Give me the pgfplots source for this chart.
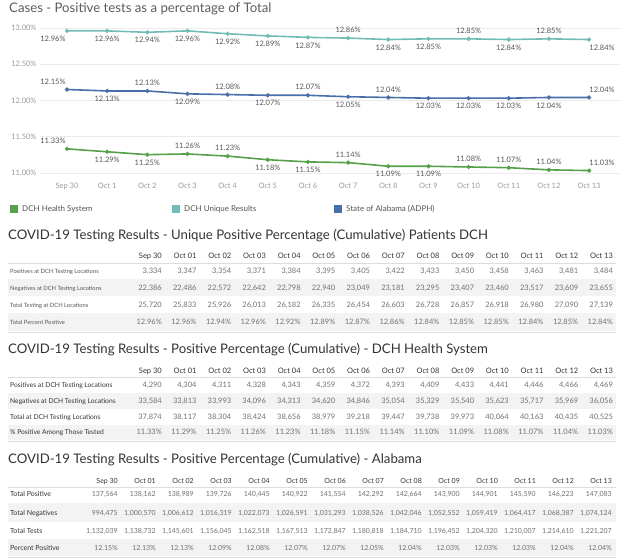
\documentclass[border=0pt]{standalone}
\usepackage{fontspec}
\setmainfont{Lato}
\usepackage{pgfplots}
\pgfplotsset{compat=1.18}

\definecolor{cgreen}{HTML}{55A048}
\definecolor{cteal}{HTML}{72BCB5}
\definecolor{cblue}{HTML}{4A6EA8}
\definecolor{lab}{HTML}{555555}
\definecolor{tickc}{HTML}{9A9A9A}
\definecolor{band}{HTML}{F3F3F3}
\definecolor{rulec}{HTML}{DDDDDD}
\definecolor{num}{HTML}{707070}
\definecolor{ttl}{HTML}{333333}

\newcommand\fs[1]{\fontsize{#1}{#1}\selectfont}
\tikzset{txt/.style={inner sep=0pt,text height=0.72em,text depth=0.18em}}

% one table row: first right edge, step, y centre, style, values
\newcommand\vals[5]{\foreach \v [count=\i from 0] in {#5}
  \node[txt,anchor=east,#4] at ({#1+#2*\i},{-#3}) {\v};}

\pgfplotsset{lbl/.style={
  nodes near coords={\pgfmathprintnumber[fixed,fixed zerofill,precision=2]{\pgfplotspointmeta}\%},
  point meta=y,
  visualization depends on={value \thisrow{dx}\as\dx},
  visualization depends on={value \thisrow{dy}\as\dy},
  nodes near coords style={font=\fs{7.5},text=lab,anchor=center,inner sep=0pt,
    xshift=\dx pt,yshift=\dy pt}},
  ser/.style={#1,line width=1.6pt,mark=*,mark size=1.2pt,lbl}}

\begin{document}
\begin{tikzpicture}
\path[use as bounding box] (0pt,0pt) rectangle (624pt,-559pt);

% ---------- chart ----------
\begin{axis}[at={(40pt,-20pt)},anchor=north west,
  scale only axis,width=580pt,height=160pt,
  xmin=-0.672,xmax=13.77,ymin=10.9,ymax=13.11,
  axis line style={draw=none},major tick length=0pt,
  ymajorgrids,grid style={rulec!60},
  xtick={0,...,13},
  xticklabels={Sep 30,Oct 1,Oct 2,Oct 3,Oct 4,Oct 5,Oct 6,Oct 7,Oct 8,Oct 9,Oct 10,Oct 11,Oct 12,Oct 13},
  ytick={11,11.5,12,12.5,13},
  yticklabel={\pgfmathprintnumber[fixed,fixed zerofill,precision=2]{\tick}\%},
  ticklabel style={font=\fs{7.5},text=tickc},
  /pgf/number format/assume math mode=true,
  clip=false]

\addplot[ser=cteal] table {
x y dx dy
0 12.96 -14 -8
1 12.96 0 -8
2 12.94 0 -8
3 12.96 0 -8
4 12.92 0 -8
5 12.89 0 -8
6 12.87 0 -8
7 12.86 0 8
8 12.84 0 -8
9 12.85 0 -8
10 12.85 0 8
11 12.84 0 -8
12 12.85 0 8
13 12.84 13 -8
};

\addplot[ser=cblue] table {
x y dx dy
0 12.15 -14 8
1 12.13 0 -8
2 12.13 0 8
3 12.09 0 -8
4 12.08 0 8
5 12.07 0 -8
6 12.07 0 8
7 12.05 0 -8
8 12.04 0 8
9 12.03 0 -8
10 12.03 0 -8
11 12.03 0 -8
12 12.04 0 -8
13 12.04 13 8
};

\addplot[ser=cgreen] table {
x y dx dy
0 11.33 -14 8
1 11.29 0 -8
2 11.25 0 -8
3 11.26 0 8
4 11.23 0 8
5 11.18 0 -8
6 11.15 0 -8
7 11.14 0 8
8 11.09 0 -8
9 11.09 0 -8
10 11.08 0 8
11 11.07 0 8
12 11.04 0 8
13 11.03 13 8
};
\end{axis}

\begin{scope}[x=1pt,y=1pt]
\node[txt,anchor=west,font=\fs{13.2},text=ttl!80] at (9,-10) {Cases - Positive tests as a percentage of Total};

% legend
\fill[cgreen] (10,-205) rectangle (18,-213);
\node[txt,anchor=west,font=\fs{8},text=lab] at (22,-209) {DCH Health System};
\fill[cteal] (172,-205) rectangle (180,-213);
\node[txt,anchor=west,font=\fs{8},text=lab] at (184,-209) {DCH Unique Results};
\fill[cblue] (334,-205) rectangle (342,-213);
\node[txt,anchor=west,font=\fs{8},text=lab] at (346,-209) {State of Alabama (ADPH)};

% ---------- table 1 ----------
\node[txt,anchor=west,font=\fs{13.2},text=ttl] at (8,-237) {COVID-19 Testing Results - Unique Positive Percentage (Cumulative) Patients DCH};
\fill[band] (8,-279) rectangle (616,-296);
\fill[band] (8,-313) rectangle (616,-331);
\draw[rulec] (8,-263) -- (616,-263);
\draw[rulec] (8,-332) -- (616,-332);
\vals{162}{34.7}{256}{font=\fs{7.5},text=ttl}{Sep 30,Oct 01,Oct 02,Oct 03,Oct 04,Oct 05,Oct 06,Oct 07,Oct 08,Oct 09,Oct 10,Oct 11,Oct 12,Oct 13}
\foreach \t/\y in {Positives at DCH Testing Locations/271,Negatives at DCH Testing Locations/288,Total Testing at DCH Locations/305,Total Percent Positive/322}
  \node[txt,anchor=west,font=\fs{5.8},text=lab] at (10,-\y) {\t};
\vals{162}{34.7}{271}{font=\fs{7.5},text=num}{{3,334},{3,347},{3,354},{3,371},{3,384},{3,395},{3,405},{3,422},{3,433},{3,450},{3,458},{3,463},{3,481},{3,484}}
\vals{162}{34.7}{288}{font=\fs{7.5},text=num}{{22,386},{22,486},{22,572},{22,642},{22,798},{22,940},{23,049},{23,181},{23,295},{23,407},{23,460},{23,517},{23,609},{23,655}}
\vals{162}{34.7}{305}{font=\fs{7.5},text=num}{{25,720},{25,833},{25,926},{26,013},{26,182},{26,335},{26,454},{26,603},{26,728},{26,857},{26,918},{26,980},{27,090},{27,139}}
\vals{162}{34.7}{322}{font=\fs{7.5},text=num}{12.96\%,12.96\%,12.94\%,12.96\%,12.92\%,12.89\%,12.87\%,12.86\%,12.84\%,12.85\%,12.85\%,12.84\%,12.85\%,12.84\%}

% ---------- table 2 ----------
\node[txt,anchor=west,font=\fs{13.2},text=ttl] at (8,-351) {COVID-19 Testing Results - Positive Percentage (Cumulative) - DCH Health System};
\fill[band] (8,-393) rectangle (616,-409);
\fill[band] (8,-425) rectangle (616,-440);
\draw[rulec] (8,-377) -- (616,-377);
\draw[rulec] (8,-441) -- (616,-441);
\vals{162}{34.7}{371}{font=\fs{7.5},text=ttl}{Sep 30,Oct 01,Oct 02,Oct 03,Oct 04,Oct 05,Oct 06,Oct 07,Oct 08,Oct 09,Oct 10,Oct 11,Oct 12,Oct 13}
\foreach \t/\y in {Positives at DCH Testing Locations/385,Negatives at DCH Testing Locations/401,Total at DCH Testing Locations/417,\% Positive Among Those Tested/432}
  \node[txt,anchor=west,font=\fs{6.7},text=ttl] at (10,-\y) {\t};
\vals{162}{34.7}{385}{font=\fs{7.5},text=num}{{4,290},{4,304},{4,311},{4,328},{4,343},{4,359},{4,372},{4,393},{4,409},{4,433},{4,441},{4,446},{4,466},{4,469}}
\vals{162}{34.7}{401}{font=\fs{7.5},text=num}{{33,584},{33,813},{33,993},{34,096},{34,313},{34,620},{34,846},{35,054},{35,329},{35,540},{35,623},{35,717},{35,969},{36,056}}
\vals{162}{34.7}{417}{font=\fs{7.5},text=num}{{37,874},{38,117},{38,304},{38,424},{38,656},{38,979},{39,218},{39,447},{39,738},{39,973},{40,064},{40,163},{40,435},{40,525}}
\vals{162}{34.7}{432}{font=\fs{7.5},text=num}{11.33\%,11.29\%,11.25\%,11.26\%,11.23\%,11.18\%,11.15\%,11.14\%,11.10\%,11.09\%,11.08\%,11.07\%,11.04\%,11.03\%}

% ---------- table 3 ----------
\node[txt,anchor=west,font=\fs{13.2},text=ttl] at (8,-461) {COVID-19 Testing Results - Positive Percentage (Cumulative) - Alabama};
\fill[band] (8,-503) rectangle (616,-522);
\fill[band] (8,-539) rectangle (616,-556);
\draw[rulec] (8,-487) -- (616,-487);
\draw[rulec] (8,-557) -- (616,-557);
\vals{118}{38}{481}{font=\fs{7},text=ttl}{Sep 30,Oct 01,Oct 02,Oct 03,Oct 04,Oct 05,Oct 06,Oct 07,Oct 08,Oct 09,Oct 10,Oct 11,Oct 12,Oct 13}
\foreach \t/\y in {Total Positive/494,Total Negatives/513,Total Tests/531,Percent Positive/548}
  \node[txt,anchor=west,font=\fs{7},text=ttl] at (10,-\y) {\t};
\vals{118}{38}{494}{font=\fs{7},text=num}{{137,564},{138,162},{138,989},{139,726},{140,445},{140,922},{141,554},{142,292},{142,664},{143,900},{144,901},{145,590},{146,223},{147,083}}
\vals{118}{38}{513}{font=\fs{7},text=num}{{994,475},{1,000,570},{1,006,612},{1,016,319},{1,022,073},{1,026,591},{1,031,293},{1,038,526},{1,042,046},{1,052,552},{1,059,419},{1,064,417},{1,068,387},{1,074,124}}
\vals{118}{38}{531}{font=\fs{7},text=num}{{1,132,039},{1,138,732},{1,145,601},{1,156,045},{1,162,518},{1,167,513},{1,172,847},{1,180,818},{1,184,710},{1,196,452},{1,204,320},{1,210,007},{1,214,610},{1,221,207}}
\vals{118}{38}{548}{font=\fs{7},text=num}{12.15\%,12.13\%,12.13\%,12.09\%,12.08\%,12.07\%,12.07\%,12.05\%,12.04\%,12.03\%,12.03\%,12.03\%,12.04\%,12.04\%}
\end{scope}
\end{tikzpicture}
\end{document}
